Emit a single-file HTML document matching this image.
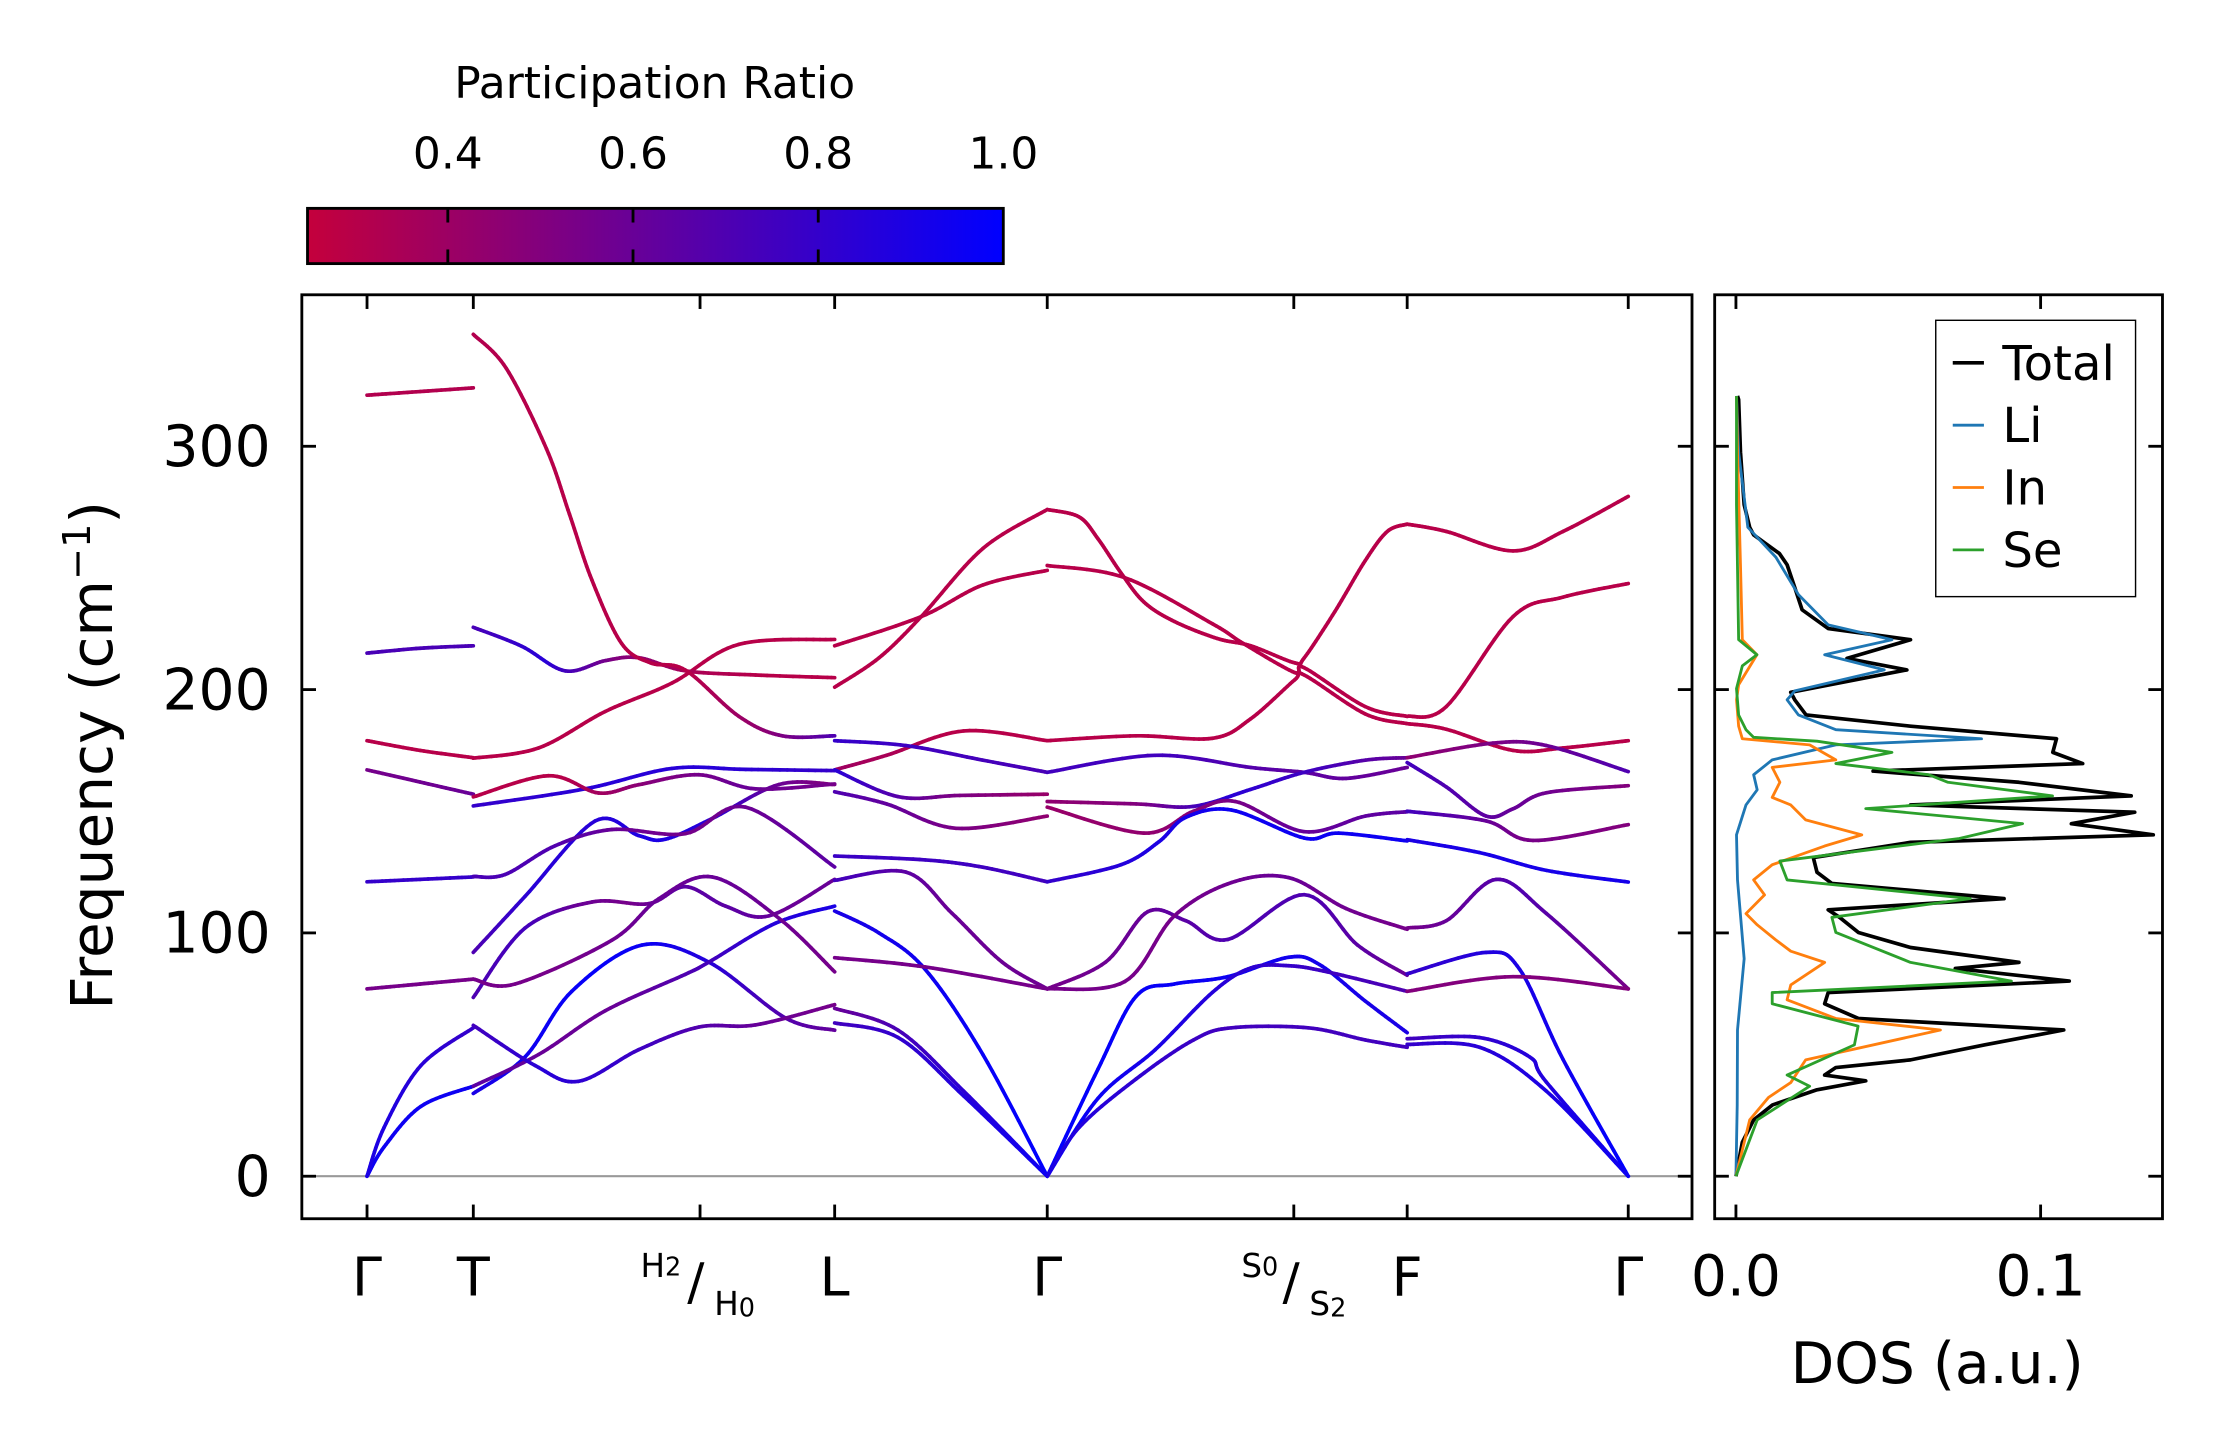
<!DOCTYPE html>
<html><head><meta charset="utf-8">
<style>
html,body{margin:0;padding:0;background:#fff;}
svg{display:block;font-family:"DejaVu Sans","Liberation Sans",sans-serif;}
</style></head>
<body>
<svg id="fig" width="2222" height="1455" viewBox="0 0 1568 1026.7" xmlns="http://www.w3.org/2000/svg">
  <defs>
    <linearGradient id="cmap" x1="0" x2="1" y1="0" y2="0">
      <stop offset="0" stop-color="rgb(196,0,60)"/>
      <stop offset="1" stop-color="rgb(0,0,255)"/>
    </linearGradient>
    <clipPath id="clipMain"><rect x="213" y="208" width="981" height="652"/></clipPath>
    <clipPath id="clipDos"><rect x="1210" y="208" width="316" height="652"/></clipPath>
  </defs>
  <rect width="1568" height="1026.7" fill="#fff"/>

  <!-- colorbar -->
  <g>
    <text x="462" y="69" font-size="31" text-anchor="middle">Participation Ratio</text>
    <rect x="217" y="147" width="491" height="39" fill="url(#cmap)" stroke="#000" stroke-width="2"/>
    <g id="cbTicks"></g>
  </g>

  <!-- main band axes -->
  <g>
    <line x1="213" x2="1194" y1="830" y2="830" stroke="#999" stroke-width="1.5"/>
    <g id="bands" clip-path="url(#clipMain)"></g>
    <rect x="213" y="208" width="981" height="652" fill="none" stroke="#000" stroke-width="2"/>
    <g id="mainTicks"></g>
    <text transform="translate(79,533) rotate(-90)" font-size="41" text-anchor="middle">Frequency (cm<tspan baseline-shift="super" font-size="27">−1</tspan>)</text>
    <g>
      <text x="452" y="901" font-size="23">H<tspan font-size="18" dy="-1">2</tspan></text>
      <text x="485" y="917" font-size="36">/</text>
      <text x="504" y="928" font-size="23">H<tspan font-size="18" dy="1">0</tspan></text>
    </g>
    <g>
      <text x="876" y="901" font-size="23">S<tspan font-size="18" dy="-1">0</tspan></text>
      <text x="905" y="917" font-size="36">/</text>
      <text x="924" y="928" font-size="23">S<tspan font-size="18" dy="1">2</tspan></text>
    </g>
  </g>

  <!-- DOS axes -->
  <g>
    <g id="dos" clip-path="url(#clipDos)"></g>
    <rect x="1210" y="208" width="316" height="652" fill="none" stroke="#000" stroke-width="2"/>
    <g id="dosTicks"></g>
    <text x="1367" y="976" font-size="40" text-anchor="middle">DOS (a.u.)</text>
    <g>
      <rect x="1366" y="226" width="141" height="195" fill="#fff" stroke="#000" stroke-width="1"/>
      <g><line x1="1378" x2="1400" y1="256" y2="256" stroke="#000" stroke-width="2.6"/><text x="1413" y="268" font-size="34">Total</text></g>
      <g><line x1="1378" x2="1400" y1="300" y2="300" stroke="#1f77b4" stroke-width="2"/><text x="1413" y="312" font-size="34">Li</text></g>
      <g><line x1="1378" x2="1400" y1="344" y2="344" stroke="#ff7f0e" stroke-width="2"/><text x="1413" y="356" font-size="34">In</text></g>
      <g><line x1="1378" x2="1400" y1="388" y2="388" stroke="#2ca02c" stroke-width="2"/><text x="1413" y="400" font-size="34">Se</text></g>
    </g>
  </g>
</svg>
<script>
// ---------- data ----------
const kTicks = [0, 0.75, 2.35, 3.30, 4.80, 6.54, 7.34, 8.90];
const kLabels = ['Γ', 'T', '', 'L', 'Γ', '', 'F', 'Γ'];
const freqTicks = [0, 100, 200, 300];
const freqTickLabels = ['0', '100', '200', '300'];
const prTicks = [0.4, 0.6, 0.8, 1.0];
const prTickLabels = ['0.4', '0.6', '0.8', '1.0'];
const dosTicks = [0.0, 0.1];
const dosTickLabels = ['0.0', '0.1'];

// Gamma -> T
const bandsGT = [
  {k:[0,0.12,0.38,0.75], f:[0,12,28.7,37], pr:[0.95,0.95]},
  {k:[0,0.12,0.38,0.75], f:[0,20,45.5,61], pr:[0.9,0.8]},
  {k:[0,0.375,0.75], f:[77,79,81], pr:[0.55,0.55]},
  {k:[0,0.375,0.75], f:[121,122,123], pr:[0.8,0.8]},
  {k:[0,0.375,0.75], f:[167,162,157], pr:[0.55,0.6]},
  {k:[0,0.375,0.75], f:[179,175,172], pr:[0.3,0.3]},
  {k:[0,0.375,0.75], f:[215,217,218], pr:[0.72,0.72]},
  {k:[0,0.375,0.75], f:[321,322.5,324], pr:[0.32,0.32]}
];
// T -> H -> L
const bandsTL = [
  {k:[0.75,1.115,1.445,1.94,2.412,2.954,3.30], f:[34,49,76,95,88,65,60], pr:[0.9,0.95,0.98,0.95,0.85,0.7,0.62]},
  {k:[0.75,1.21,1.681,2.247,2.412,2.883,3.30], f:[37,50,68,83,88,104,111], pr:[0.65,0.6,0.6,0.7,0.85,0.9]},
  {k:[0.75,1.186,1.492,1.917,2.341,2.742,3.30], f:[62,45.5,39,52,61.3,62.2,70.5], pr:[0.75,0.85,0.8,0.7,0.6,0.55]},
  {k:[0.75,1.115,1.587,1.987,2.247,2.53,2.836,3.30], f:[73.5,102,112.7,112,119,111,107,122], pr:[0.7,0.75,0.6,0.55,0.65,0.65,0.6,0.6]},
  {k:[0.75,1.045,1.728,2.058,2.435,2.907,3.30], f:[81,79,97,114,123,106,84], pr:[0.55,0.55,0.6,0.6,0.55]},
  {k:[0.75,1.115,1.61,1.917,2.105,2.435,2.907,3.30], f:[92,115,146,140,138.5,147,161,161], pr:[0.7,0.85,0.85,0.9,0.85,0.6,0.5]},
  {k:[0.75,0.974,1.327,1.728,2.247,2.671,3.30], f:[123.2,124,135.8,142.5,140.8,151.7,127.1], pr:[0.72,0.7,0.6,0.55,0.6,0.65]},
  {k:[0.75,1.54,2.152,2.671,3.30], f:[152.2,159.2,167.6,167.2,166.7], pr:[0.8,0.85,0.85,0.8]},
  {k:[0.75,1.28,1.634,1.917,2.341,2.742,3.30], f:[155.9,164.6,157.5,160.9,165,159.2,161.2], pr:[0.3,0.3,0.5,0.6,0.55]},
  {k:[0.75,1.21,1.681,2.152,2.624,3.30], f:[171.8,176,191,202.7,218.6,220.6], pr:[0.3,0.3]},
  {k:[0.75,1.092,1.398,1.681,1.917,2.247,2.742,3.30], f:[225.6,217.8,207.7,211.9,213.1,207.7,206,204.9], pr:[0.72,0.85,0.5,0.35,0.3,0.3]},
  {k:[0.75,0.983,1.266,1.429,1.587,1.796,2.0,2.247,2.624,2.93,3.30], f:[346,332,299,272,245,219,211,208,189,181,181], pr:[0.32,0.3,0.3,0.3,0.45,0.7]}
];
// L -> Gamma
const bandsLG = [
  {k:[3.30,3.911,4.346,4.80], f:[218,230,243,249], pr:[0.3,0.3]},
  {k:[3.30,3.612,3.911,4.346,4.80], f:[201,213,230,258,274], pr:[0.3,0.3]},
  {k:[3.30,3.667,4.21,4.80], f:[167,173,183,179], pr:[0.4,0.3,0.3]},
  {k:[3.30,3.803,4.346,4.80], f:[179,177,171,166], pr:[0.8,0.75,0.72]},
  {k:[3.30,3.748,4.183,4.80], f:[167,156,156.5,157], pr:[0.85,0.55,0.42]},
  {k:[3.30,3.667,4.156,4.80], f:[158,153,143,148], pr:[0.7,0.55,0.45]},
  {k:[3.30,3.939,4.346,4.80], f:[131.6,130,127,121], pr:[0.78,0.75]},
  {k:[3.30,3.803,4.129,4.482,4.80], f:[121.6,125,108,88,77], pr:[0.75,0.6,0.58]},
  {k:[3.30,3.612,3.939,4.346,4.80], f:[109,100,85,50,0], pr:[0.9,1.0]},
  {k:[3.30,3.939,4.80], f:[89.8,86,77], pr:[0.55,0.55]},
  {k:[3.30,3.748,4.21,4.80], f:[69,60,35,0], pr:[0.6,0.8,0.95]},
  {k:[3.30,3.748,4.21,4.80], f:[63,57,33,0], pr:[0.75,0.95]}
];
// Gamma -> S -> F
const bandsGF = [
  {k:[4.80,5.024,5.158,5.32,5.482,5.697,6.0,6.236,6.546,6.613,6.829,7.044,7.2,7.34], f:[274,271,262,248,236,228,221,218,211,213,232,253,265,268], pr:[0.3,0.3]},
  {k:[4.80,5.347,5.967,6.182,6.546,6.613,7.044,7.34], f:[251,246,227,219,207,209,193,189], pr:[0.3,0.3]},
  {k:[4.80,5.428,5.967,6.236,6.546,6.613,7.044,7.34], f:[179,181,180,188,204,206,190,186], pr:[0.3,0.3]},
  {k:[4.80,5.562,6.236,6.613,6.909,7.34], f:[166,173,168,166,163.5,168], pr:[0.75,0.75,0.65,0.6]},
  {k:[4.80,5.428,5.832,6.236,6.613,7.044,7.34], f:[154,153,152,159,166,171,172], pr:[0.45,0.5,0.85,0.75,0.6]},
  {k:[4.80,5.482,5.832,6.128,6.613,7.044,7.34], f:[151.7,141,150,154,141.6,148,149.8], pr:[0.42,0.45,0.6,0.65]},
  {k:[4.80,5.32,5.589,5.778,6.101,6.613,6.856,7.34], f:[121,128,137.5,147.5,150.5,139,141,137.8], pr:[0.8,0.95,0.95]},
  {k:[4.80,5.212,5.509,5.778,6.074,6.613,6.99,7.34], f:[77,88,108.7,105,97.3,115.7,95,82.6], pr:[0.55,0.6,0.7,0.7,0.6]},
  {k:[4.80,5.347,5.697,6.101,6.505,6.909,7.34], f:[77,80,107,120.7,122.7,110,101.5], pr:[0.55,0.55,0.6,0.55]},
  {k:[4.80,5.158,5.428,5.697,6.074,6.505,6.721,7.044,7.34], f:[0,44,74,79,82,90,87,72,59], pr:[1.0,0.95,0.9]},
  {k:[4.80,5.158,5.562,5.967,6.236,6.505,6.775,7.34], f:[0,32,52,75.6,85.6,86.5,84,76], pr:[1.0,0.85,0.7]},
  {k:[4.80,5.024,5.428,5.832,6.101,6.64,7.044,7.34], f:[0,20,40,56,61,61,56,53], pr:[0.9,0.75,0.75]}
];
// F -> Gamma
const bandsFG = [
  {k:[7.34,7.616,8.087,8.44,8.90], f:[268,265,257,265,279.4], pr:[0.3,0.3]},
  {k:[7.34,7.616,8.087,8.44,8.90], f:[189,193,230,238,243.6], pr:[0.3,0.3]},
  {k:[7.34,7.616,8.087,8.44,8.90], f:[186,183.7,175,176,179], pr:[0.3,0.3]},
  {k:[7.34,7.945,8.322,8.90], f:[172,178,177,166.3], pr:[0.45,0.55,0.7]},
  {k:[7.34,7.616,7.898,8.087,8.322,8.90], f:[170,160,148,151,157.6,160.5], pr:[0.75,0.6,0.5]},
  {k:[7.34,7.898,8.228,8.90], f:[150,146,138,144.5], pr:[0.75,0.55,0.5]},
  {k:[7.34,7.851,8.322,8.90], f:[138.3,133,125.7,120.9], pr:[0.9,0.92]},
  {k:[7.34,7.616,7.969,8.322,8.90], f:[102,105,122,108,77], pr:[0.55,0.7,0.55]},
  {k:[7.34,7.898,8.134,8.44,8.90], f:[83.2,92,85,48,0], pr:[0.8,0.9,1.0]},
  {k:[7.34,8.087,8.90], f:[76,82,77], pr:[0.5,0.5]},
  {k:[7.34,7.851,8.205,8.322,8.90], f:[56.5,57,49,38.7,0], pr:[0.75,0.95]},
  {k:[7.34,7.851,8.322,8.90], f:[54.2,53,35,0], pr:[0.8,0.95]}
];

// DOS series
const totalFreq = [0,13.9,23.1,29.3,35.5,39.2,41.6,44.7,47.8,54,60.1,64.8,70.9,75.5,80.2,85.4,87.9,94,100.2,106.4,109.5,114.1,120.3,124.9,131,137.2,140.3,144.9,149.6,152.6,156.3,161.9,166.5,169.6,174.2,179.8,185,189.6,195.8,198.9,208.1,212.8,220.5,225.1,232.8,242,251.3,255.9,263.6,266.7,276,297.6,319.2,320.7];
const totalDos = [0,.0021,.0058,.012,.0266,.0426,.0291,.0328,.0573,.0817,.1076,.0402,.0291,.0303,.1094,.072,.0929,.0573,.0402,.034,.0303,.088,.0315,.0266,.0254,.0573,.137,.1101,.1309,.0573,.1297,.0929,.045,.1138,.104,.1052,.0573,.023,.0193,.018,.0561,.0364,.0573,.0303,.0217,.0193,.0168,.0143,.0058,.0045,.0027,.0015,.0009,.0005];
const liFreq = [0,29.3,60.1,89.4,121.8,140.3,152.6,158.8,165,171.1,177.3,179.8,183.5,189.6,195.8,199.5,208.1,214.3,220.5,226.6,239,254.4,266.7,297.6,320.7];
const liDos = [0,.0004,.0005,.0027,.0005,.0002,.0033,.007,.0058,.0119,.0328,.0806,.0328,.0205,.0168,.0193,.0487,.0291,.0512,.0303,.0205,.0131,.0039,.0009,.0002];
const inFreq = [0,23.1,32.4,38.5,47.8,60.1,64.8,72.5,78.6,87.9,92.5,97.1,103.3,107.9,115.6,121.8,128,135.7,140.3,146.5,152.6,155.7,161.9,168,171.1,177.3,179.8,185,195.8,202,214.3,220.5,251.3,297.6,320.7];
const inDos = [0,.0045,.0107,.018,.0229,.0671,.0328,.0168,.018,.0291,.018,.0131,.007,.0033,.0094,.0058,.0119,.0291,.0413,.0229,.018,.0119,.0144,.0119,.0328,.0242,.0021,.0009,.0002,.0009,.0069,.0021,.0015,.0005,.0002];
const seFreq = [0,23.1,37,41.6,54,61.7,70.9,75.5,80.2,87.9,100.2,106.4,114.1,121.8,129.5,138.8,144.9,151.1,156.3,161.9,165,169.6,174.2,178.8,180.4,183.5,189.6,200.4,209.7,214.3,220.5,276,320.7];
const seDos = [0,.007,.0242,.0168,.0389,.0401,.0119,.0119,.0904,.0573,.0328,.0315,.0769,.0168,.0144,.0733,.0941,.0426,.1039,.0696,.0634,.0328,.0512,.0266,.0058,.0033,.0009,.0002,.0021,.0069,.0009,.0002,.0002];

// ---------- scales ----------
const NS = 'http://www.w3.org/2000/svg';
function xK(k){ return 259 + k * 100; }
function yF(f){ return 830 - f * 1.717; }
function xD(d){ return 1225 + d * 2150; }
function xPR(p){ return 217 + (p - 0.2485) / 0.2 * 130.7; }
function prColor(p){
  let t = (p - 0.25) / 0.75; t = Math.max(0, Math.min(1, t));
  return 'rgb(' + Math.round(196*(1-t)) + ',0,' + Math.round(60 + 195*t) + ')';
}
function mk(tag, attrs, parent){
  const e = document.createElementNS(NS, tag);
  for (const a in attrs) e.setAttribute(a, attrs[a]);
  parent.appendChild(e); return e;
}

// ---------- colorbar ticks ----------
const cbT = document.getElementById('cbTicks');
prTicks.forEach((p, i) => {
  const x = xPR(p);
  if (i < prTicks.length - 1) {
    const t1 = mk('line', {x1:x, x2:x, y1:147, y2:157, stroke:'#000', 'stroke-width':2}, cbT);
    
    
    const t2 = mk('line', {x1:x, x2:x, y1:176, y2:186, stroke:'#000', 'stroke-width':2}, cbT);
    
    
  }
  const lb = mk('text', {x:x, y:119, 'font-size':31, 'text-anchor':'middle'}, cbT);
  lb.textContent = prTickLabels[i];
  
  
});

// ---------- main ticks ----------
const mT = document.getElementById('mainTicks');
kTicks.forEach((k, i) => {
  const x = xK(k);
  const a = mk('line', {x1:x, x2:x, y1:860, y2:850, stroke:'#000', 'stroke-width':2}, mT);
  
  
  const b = mk('line', {x1:x, x2:x, y1:208, y2:218, stroke:'#000', 'stroke-width':2}, mT);
  
  
  if (kLabels[i]) {
    const t = mk('text', {x:x, y:914, 'font-size':38, 'text-anchor':'middle'}, mT);
    t.textContent = kLabels[i];
    
    
  }
});
freqTicks.forEach((f, i) => {
  const y = yF(f);
  const a = mk('line', {x1:213, x2:223, y1:y, y2:y, stroke:'#000', 'stroke-width':2}, mT);
  
  
  const b = mk('line', {x1:1184, x2:1194, y1:y, y2:y, stroke:'#000', 'stroke-width':2}, mT);
  
  
  const t = mk('text', {x:191, y:y + 14, 'font-size':40, 'text-anchor':'end'}, mT);
  t.textContent = freqTickLabels[i];
  
  
});

// ---------- bands ----------
const bG = document.getElementById('bands');
function crPoint(p0, p1, p2, p3, s){
  const s2 = s*s, s3 = s2*s;
  return 0.5*((2*p1) + (-p0 + p2)*s + (2*p0 - 5*p1 + 4*p2 - p3)*s2 + (-p0 + 3*p1 - 3*p2 + p3)*s3);
}
function prAt(pr, u){
  const n = pr.length - 1; const pos = u * n;
  const i = Math.min(n - 1, Math.floor(pos)); const r = pos - i;
  return pr[i] * (1 - r) + pr[i+1] * r;
}
function drawBand(b, segName){
  const g = mk('g', {}, bG);
  
  
  const xs = b.k.map(xK), ys = b.f.map(yF);
  const n = xs.length; const pts = [];
  for (let i = 0; i < n - 1; i++) {
    const i0 = Math.max(0, i-1), i3 = Math.min(n-1, i+2);
    const steps = 14;
    for (let s = 0; s <= steps; s++) {
      if (i > 0 && s === 0) continue;
      const t = s / steps;
      pts.push([crPoint(xs[i0], xs[i], xs[i+1], xs[i3], t), crPoint(ys[i0], ys[i], ys[i+1], ys[i3], t)]);
    }
  }
  const x0 = pts[0][0], x1 = pts[pts.length-1][0];
  for (let j = 0; j < pts.length - 1; j++) {
    const u = ((pts[j][0] + pts[j+1][0]) / 2 - x0) / (x1 - x0);
    const ln = mk('line', {x1:pts[j][0], y1:pts[j][1], x2:pts[j+1][0], y2:pts[j+1][1], stroke:prColor(prAt(b.pr, Math.max(0, Math.min(1, u)))), 'stroke-width':2.6, 'stroke-linecap':'round'}, g);
    
    
  }
}
bandsGT.forEach(b => drawBand(b, 'band-gamma-t'));
bandsTL.forEach(b => drawBand(b, 'band-t-l'));
bandsLG.forEach(b => drawBand(b, 'band-l-gamma'));
bandsGF.forEach(b => drawBand(b, 'band-gamma-f'));
bandsFG.forEach(b => drawBand(b, 'band-f-gamma'));

// ---------- DOS ----------
const dG = document.getElementById('dos');
function dosPath(freq, vals, color, w, name){
  const d = freq.map((f, i) => (i ? 'L' : 'M') + xD(vals[i]).toFixed(1) + ' ' + yF(f).toFixed(1)).join(' ');
  const p = mk('path', {d:d, fill:'none', stroke:color, 'stroke-width':w, 'stroke-linejoin':'round'}, dG);
  
  
}
dosPath(totalFreq, totalDos, '#000', 2.6, 'dos-total-line');
dosPath(liFreq, liDos, '#1f77b4', 2, 'dos-li-line');
dosPath(inFreq, inDos, '#ff7f0e', 2, 'dos-in-line');
dosPath(seFreq, seDos, '#2ca02c', 2, 'dos-se-line');

const dT = document.getElementById('dosTicks');
dosTicks.forEach((v, i) => {
  const x = xD(v);
  const a = mk('line', {x1:x, x2:x, y1:860, y2:850, stroke:'#000', 'stroke-width':2}, dT);
  
  
  const b = mk('line', {x1:x, x2:x, y1:208, y2:218, stroke:'#000', 'stroke-width':2}, dT);
  
  
  const t = mk('text', {x:x, y:914, 'font-size':40, 'text-anchor':'middle'}, dT);
  t.textContent = dosTickLabels[i];
  
  
});
freqTicks.forEach(f => {
  const y = yF(f);
  const a = mk('line', {x1:1210, x2:1220, y1:y, y2:y, stroke:'#000', 'stroke-width':2}, dT);
  
  
  const b = mk('line', {x1:1516, x2:1526, y1:y, y2:y, stroke:'#000', 'stroke-width':2}, dT);
  
  
});
</script>
</body></html>
